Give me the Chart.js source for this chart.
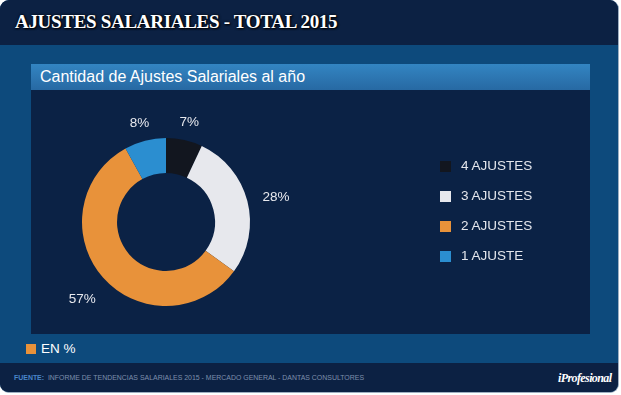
<!DOCTYPE html>
<html>
<head>
<meta charset="utf-8">
<script src="https://cdn.jsdelivr.net/npm/chart.js@4/dist/chart.umd.min.js"></script>
<style>
    body { margin: 0; background: #fff; width: 621px; height: 395px; overflow: hidden; font-family: Arial, "Liberation Sans", sans-serif; }
    #frame { position: absolute; left: 0; top: 0; width: 618px; height: 392px; border-radius: 9px; background: #0d4a7c; overflow: hidden; border: 1px solid #9fb0c2; border-top: none; border-left: none; }
    #header { position: absolute; left: 0; top: 0; width: 100%; height: 45px; background: #0c2143; }
    #header h1 { margin: 0; position: absolute; left: 15px; top: 11px; font-family: "Liberation Serif", "DejaVu Serif", serif; font-weight: bold; font-size: 19px; color: #fff; letter-spacing: -0.3px; text-shadow: 1px 1px 2px #000, 0 0 3px #000; }
    #panel { position: absolute; left: 31px; top: 64px; width: 559px; height: 270px; background: #0b2245; }
    #panel-title { position: absolute; left: 0; top: 0; width: 100%; height: 26px; background: linear-gradient(#3385c2, #2769a3); color: #fff; font-size: 16px; line-height: 26px; padding-left: 9px; box-sizing: border-box; }
    #chart-wrap { position: absolute; left: 0; top: 26px; width: 559px; height: 244px; }
    #legend { position: absolute; left: 409px; top: 93px; list-style: none; margin: 0; padding: 0; }
    #legend li { height: 30px; line-height: 18px; font-size: 13.5px; color: #e4e6ec; position: relative; padding-left: 21px; }
    #legend li span { position: absolute; left: 0; top: 4px; width: 11px; height: 11px; }
    #unit { position: absolute; left: 26px; top: 341px; color: #fff; font-size: 13.5px; }
    #unit span { display: inline-block; width: 10px; height: 10px; background: #e8923a; margin-right: 5px; vertical-align: -1px; }
    #footer { position: absolute; left: 0; top: 363px; width: 100%; height: 30px; background: #0c2143; }
    #source { position: absolute; left: 14px; top: 11px; font-size: 6.95px; color: #7d8fac; }
    #source b { color: #4a86c9; }
    #logo { position: absolute; left: 558px; top: 8px; font-family: "Liberation Serif", serif; font-style: italic; font-weight: bold; font-size: 12px; color: #fff; letter-spacing: -0.6px; }
</style>
</head>
<body>
<div id="frame">
    <div id="header"><h1>AJUSTES SALARIALES - TOTAL 2015</h1></div>
    <div id="panel">
        <div id="panel-title">Cantidad de Ajustes Salariales al año</div>
        <div id="chart-wrap"><canvas id="donut"></canvas></div>
        <ul id="legend"></ul>
    </div>
    <div id="unit"><span></span>EN %</div>
    <div id="footer">
        <div id="source"><b>FUENTE:</b>&nbsp; INFORME DE TENDENCIAS SALARIALES 2015 - MERCADO GENERAL - DANTAS CONSULTORES</div>
        <div id="logo">iProfesional</div>
    </div>
</div>
<script>
const categories = ['4 AJUSTES', '3 AJUSTES', '2 AJUSTES', '1 AJUSTE'];
const shares = [7, 28, 57, 8];
const sliceColors = ['#12161f', '#e7e8ed', '#e8923a', '#2b8ed0'];

// percent labels outside each slice
const outerLabels = {
    id: 'outerLabels',
    afterDatasetsDraw(chart) {
        const ctx = chart.ctx;
        const meta = chart.getDatasetMeta(0);
        ctx.save();
        ctx.font = '13.5px Arial, "Liberation Sans", sans-serif';
        ctx.fillStyle = '#e8e9ee';
        ctx.textAlign = 'center';
        ctx.textBaseline = 'middle';
        meta.data.forEach((arc, i) => {
            const a = (arc.startAngle + arc.endAngle) / 2;
            const r = arc.outerRadius + 20 + 10 * Math.abs(Math.cos(a));
            ctx.fillText(shares[i] + '%', arc.x + Math.cos(a) * r, arc.y + Math.sin(a) * r + 4);
        });
        ctx.restore();
    }
};

const chart = new Chart(document.getElementById('donut'), {
    type: 'doughnut',
    data: {
        labels: categories,
        datasets: [{
            data: shares,
            backgroundColor: sliceColors,
            borderWidth: 0
        }]
    },
    options: {
        responsive: true,
        maintainAspectRatio: false,
        animation: false,
        radius: 84,
        cutout: '58.3%',  // hole ~49px
        layout: { padding: { left: 0, right: 289, top: 20, bottom: 0 } },
        plugins: {
            legend: { display: false },
            tooltip: { enabled: false }
        }
    },
    plugins: [outerLabels]
});

// legend from the same arrays
const legend = document.getElementById('legend');
categories.forEach((c, i) => {
    const li = document.createElement('li');
    li.innerHTML = `<span style="background:${sliceColors[i]}"></span>${c}`;
    legend.appendChild(li);
});
</script>
</body>
</html>
